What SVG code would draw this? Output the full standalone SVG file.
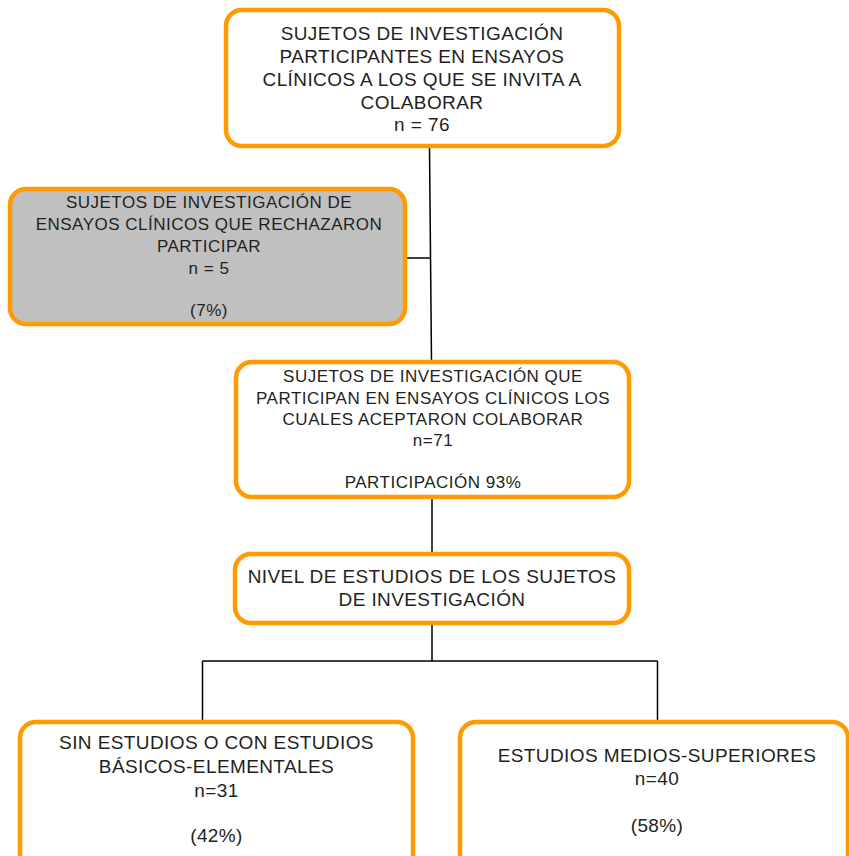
<svg xmlns="http://www.w3.org/2000/svg" width="849" height="856" viewBox="0 0 849 856">
<style>
.box{fill:#ffffff;stroke:#ff9a00;stroke-width:4.5}
.grey{fill:#c0c0c0}
.t{font-family:"Liberation Sans",Arial,Helvetica,sans-serif;fill:#231f20;text-anchor:middle}
.l{font-size:19px;letter-spacing:0.4px}
.s{font-size:17px;letter-spacing:0.5px}
.c{stroke:#000;stroke-width:1.5;fill:none}
</style>
<rect width="849" height="856" fill="#ffffff"/>
<g id="connectors">
<path class="c" d="M429.5 148 L431.5 361"/>
<path class="c" d="M407 258 H431"/>
<path class="c" d="M432 499 V553"/>
<path class="c" d="M432 625 V661"/>
<path class="c" d="M202.5 661 H657.5"/>
<path class="c" d="M202.5 661 V721"/>
<path class="c" d="M657.5 661 V721"/>
</g>
<g id="n1">
<rect class="box" x="226" y="10" width="393" height="136" rx="16"/>
<text class="t l" x="422" y="40">SUJETOS DE INVESTIGACIÓN</text>
<text class="t l" x="422" y="63">PARTICIPANTES EN ENSAYOS</text>
<text class="t l" x="422" y="86">CLÍNICOS A LOS QUE SE INVITA A</text>
<text class="t l" x="422" y="109">COLABORAR</text>
<text class="t l" x="422" y="131">n = 76</text>
</g>
<g id="n2">
<rect class="box grey" x="10" y="189" width="395" height="135" rx="16"/>
<text class="t s" x="209" y="208">SUJETOS DE INVESTIGACIÓN DE</text>
<text class="t s" x="209" y="230">ENSAYOS CLÍNICOS QUE RECHAZARON</text>
<text class="t s" x="209" y="252">PARTICIPAR</text>
<text class="t s" x="209" y="274">n = 5</text>
<text class="t s" x="209" y="316">(7%)</text>
</g>
<g id="n3">
<rect class="box" x="236" y="362" width="393" height="135" rx="16"/>
<text class="t s" x="433" y="382">SUJETOS DE INVESTIGACIÓN QUE</text>
<text class="t s" x="433" y="404">PARTICIPAN EN ENSAYOS CLÍNICOS LOS</text>
<text class="t s" x="433" y="425">CUALES ACEPTARON COLABORAR</text>
<text class="t s" x="433" y="446">n=71</text>
<text class="t s" x="433" y="488">PARTICIPACIÓN 93%</text>
</g>
<g id="n4">
<rect class="box" x="235" y="554" width="394" height="69" rx="16"/>
<text class="t l" x="432" y="583">NIVEL DE ESTUDIOS DE LOS SUJETOS</text>
<text class="t l" x="432" y="606">DE INVESTIGACIÓN</text>
</g>
<g id="n5">
<rect class="box" x="20" y="722" width="393" height="160" rx="16"/>
<text class="t l" x="216.5" y="749">SIN ESTUDIOS O CON ESTUDIOS</text>
<text class="t l" x="216.5" y="773">BÁSICOS-ELEMENTALES</text>
<text class="t l" x="216.5" y="797">n=31</text>
<text class="t l" x="216.5" y="842">(42%)</text>
</g>
<g id="n6">
<rect class="box" x="460" y="722" width="388" height="160" rx="16"/>
<text class="t l" x="657" y="762">ESTUDIOS MEDIOS-SUPERIORES</text>
<text class="t l" x="657" y="785">n=40</text>
<text class="t l" x="657" y="832">(58%)</text>
</g>
</svg>
